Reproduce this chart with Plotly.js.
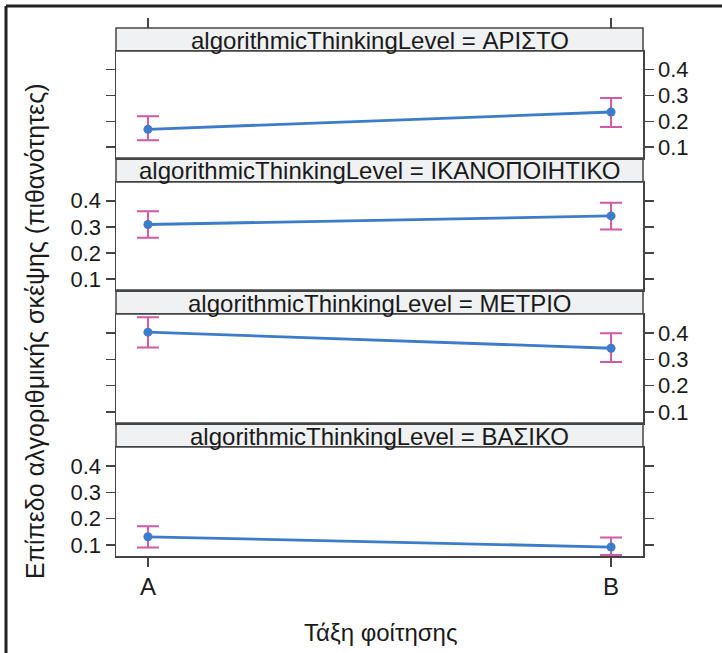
<!DOCTYPE html>
<html><head><meta charset="utf-8">
<script src="https://cdn.plot.ly/plotly-3.0.1.min.js"></script>
<style>html,body{margin:0;padding:0;background:#fff}</style>
</head><body><div id="chart" style="width:722px;height:653px"></div>
<script>
// ---- data ----
const classes = ['A', 'B'];
const levels = ['ΑΡΙΣΤΟ', 'ΙΚΑΝΟΠΟΙΗΤΙΚΟ', 'ΜΕΤΡΙΟ', 'ΒΑΣΙΚΟ'];
const fitAristo = [0.169, 0.236];
const lowerAristo = [0.127, 0.178];
const upperAristo = [0.220, 0.290];
const fitIkano = [0.309, 0.342];
const lowerIkano = [0.258, 0.290];
const upperIkano = [0.360, 0.392];
const fitMetrio = [0.403, 0.342];
const lowerMetrio = [0.345, 0.290];
const upperMetrio = [0.460, 0.399];
const fitVasiko = [0.131, 0.092];
const lowerVasiko = [0.090, 0.062];
const upperVasiko = [0.171, 0.128];
const yTicks = [0.1, 0.2, 0.3, 0.4];
const stripPrefix = 'algorithmicThinkingLevel = ';
const yTitle = 'Επίπεδο αλγοριθμικής σκέψης (πιθανότητες)';
const xTitle = 'Τάξη φοίτησης';

const fits = [fitAristo, fitIkano, fitMetrio, fitVasiko];
const lowers = [lowerAristo, lowerIkano, lowerMetrio, lowerVasiko];
const uppers = [upperAristo, upperIkano, upperMetrio, upperVasiko];

// ---- layout geometry (pixels) ----
const W = 722, H = 653;
const px = v => v / W;
const py = v => 1 - v / H;
const xL = 116, xR = 643;
const strips = [[28, 51], [158, 182], [290, 314], [423, 447]];
const plots = [[51, 158], [182, 290], [314, 423], [447, 556]];
const labelSide = ['right', 'left', 'right', 'left'];

const FONT = 'Liberation Sans, Arial, sans-serif';
const TXT = '#1a1a1a';
const AX = '#444444';
const LINE = '#3d7bcb';
const ERR = '#d05aa8';
const xRange = [-0.069, 1.069];
const yRange = [0.058, 0.472];

const traces = [];
const layout = {
  width: W, height: H,
  margin: {l: 0, r: 0, t: 0, b: 0},
  paper_bgcolor: '#ffffff', plot_bgcolor: '#ffffff',
  showlegend: false,
  font: {family: FONT, color: TXT, size: 20},
  shapes: [], annotations: []
};

for (let i = 0; i < 4; i++) {
  const n = i + 1;
  const xa = 'x' + (n === 1 ? '' : n), ya = 'y' + (n === 1 ? '' : n);
  traces.push({
    type: 'scatter', mode: 'lines+markers',
    x: classes, y: fits[i], xaxis: xa, yaxis: ya,
    line: {color: LINE, width: 2.8},
    marker: {color: LINE, size: 9},
    error_y: {
      type: 'data', symmetric: false,
      array: uppers[i].map((u, k) => u - fits[i][k]),
      arrayminus: lowers[i].map((l, k) => fits[i][k] - l),
      color: ERR, thickness: 2, width: 11
    },
    hoverinfo: 'skip'
  });
  const isBottom = i === 3;
  layout['xaxis' + (n === 1 ? '' : n)] = {
    domain: [px(xL), px(xR)], anchor: ya, type: 'category',
    range: xRange, showgrid: false, zeroline: false,
    showline: true, mirror: true, linecolor: AX, linewidth: 1.5,
    ticks: isBottom ? 'outside' : '', ticklen: 9, tickwidth: 1.5, tickcolor: AX,
    showticklabels: isBottom, tickfont: {size: 24, color: TXT, family: FONT},
    fixedrange: true
  };
  layout['yaxis' + (n === 1 ? '' : n)] = {
    domain: [py(plots[i][1]), py(plots[i][0])], anchor: xa,
    range: yRange, tickvals: yTicks, ticktext: yTicks.map(v => v.toFixed(1)),
    side: labelSide[i], showgrid: false, zeroline: false,
    showline: true, mirror: 'ticks', linecolor: AX, linewidth: 1.5,
    ticks: 'outside', ticklen: 9, tickwidth: 1.5, tickcolor: AX,
    tickfont: {size: 22, color: TXT, family: FONT},
    fixedrange: true
  };
  // strip
  layout.shapes.push({
    type: 'rect', xref: 'paper', yref: 'paper',
    x0: px(xL), x1: px(xR), y0: py(strips[i][1]), y1: py(strips[i][0]),
    fillcolor: '#f0f1f3', line: {color: AX, width: 1.5}, layer: 'below'
  });
  layout.annotations.push({
    xref: 'paper', yref: 'paper',
    x: px((xL + xR) / 2), y: py((strips[i][0] + strips[i][1]) / 2 + 1),
    text: stripPrefix + levels[i], showarrow: false,
    xanchor: 'center', yanchor: 'middle',
    font: {size: 24, color: TXT, family: FONT}
  });
}

// top ticks above the first strip
traces.push({type: 'scatter', mode: 'markers', x: classes, y: [null, null],
  xaxis: 'x5', yaxis: 'y', hoverinfo: 'skip', showlegend: false});
layout.xaxis5 = {
  overlaying: 'x', anchor: 'free', position: py(strips[0][0]), side: 'top',
  type: 'category', range: xRange, showgrid: false, zeroline: false,
  showline: false, ticks: 'outside', ticklen: 10, tickwidth: 1.5, tickcolor: AX,
  showticklabels: false, fixedrange: true
};

// titles
layout.annotations.push({
  xref: 'paper', yref: 'paper', x: px(35), y: py(331),
  text: yTitle, textangle: -90, showarrow: false,
  xanchor: 'center', yanchor: 'middle',
  font: {size: 25, color: TXT, family: FONT}
});
layout.annotations.push({
  xref: 'paper', yref: 'paper', x: px(380), y: py(632),
  text: xTitle, showarrow: false, xanchor: 'center', yanchor: 'middle',
  font: {size: 24, color: TXT, family: FONT}
});

// outer frame (top and left edges)
layout.shapes.push({type: 'line', xref: 'paper', yref: 'paper',
  x0: px(6), x1: 1, y0: py(6), y1: py(6), line: {color: '#222', width: 3}});
layout.shapes.push({type: 'line', xref: 'paper', yref: 'paper',
  x0: px(6), x1: px(6), y0: py(6), y1: 0, line: {color: '#222', width: 3}});

Plotly.newPlot('chart', traces, layout, {displayModeBar: false, staticPlot: true});
</script>
</body></html>
